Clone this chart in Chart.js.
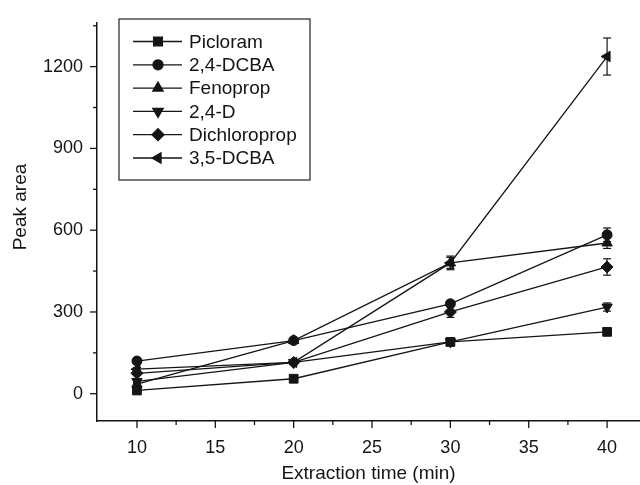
<!DOCTYPE html>
<html>
<head>
<meta charset="utf-8">
<title>Peak area vs extraction time</title>
<script src="https://cdn.jsdelivr.net/npm/chart.js@4.4.1/dist/chart.umd.min.js"></script>
<style>
  html, body { margin: 0; padding: 0; background: #fff; }
  #wrap { width: 640px; height: 485px; }
</style>
</head>
<body>
<div id="wrap"><canvas id="peakChart" width="640" height="485"></canvas></div>
<script>
const times = [10, 20, 30, 40];

const picloram     = [12, 55, 190, 227];
const dcba24       = [120, 195, 330, 583];
const fenoprop     = [35, 195, 480, 553];
const d24          = [45, 115, 190, 318];
const dichloroprop = [75, 115, 300, 465];
const dcba35       = [90, 115, 480, 1237];

// standard deviations for the error bars
const picloramErr     = [6, 6, 8, 8];
const dcba24Err       = [8, 8, 10, 25];
const fenopropErr     = [6, 8, 20, 20];
const d24Err          = [6, 8, 10, 15];
const dichloropropErr = [6, 8, 20, 30];
const dcba35Err       = [6, 8, 25, 68];

const xTicks = [10, 15, 20, 25, 30, 35, 40];
const xMinorTicks = [12.5, 17.5, 22.5, 27.5, 32.5, 37.5];
const yTicks = [0, 300, 600, 900, 1200];
const yMinorTicks = [150, 450, 750, 1050, 1350];

const FONT = '"Liberation Sans", Arial, sans-serif';
const INK = '#151515';

function series(label, values, errs, pointStyle, rotation, radius) {
    return {
        label: label,
        data: times.map((t, i) => ({ x: t, y: values[i] })),
        errors: errs,
        borderColor: INK,
        backgroundColor: INK,
        borderWidth: 1.3,
        pointStyle: pointStyle,
        rotation: rotation,
        pointRadius: radius,
        pointBorderWidth: 1,
        pointBackgroundColor: INK,
        pointBorderColor: INK,
        tension: 0
    };
}

const datasets = [
    series('Picloram', picloram, picloramErr, 'rect', 0, 6.2),
    series('2,4-DCBA', dcba24, dcba24Err, 'circle', 0, 5),
    series('Fenoprop', fenoprop, fenopropErr, 'triangle', 0, 6),
    series('2,4-D', d24, d24Err, 'triangle', 180, 6),
    series('Dichloroprop', dichloroprop, dichloropropErr, 'rectRot', 0, 6),
    series('3,5-DCBA', dcba35, dcba35Err, 'triangle', -90, 6)
];

function stroke(ctx, x1, y1, x2, y2) {
    ctx.beginPath();
    ctx.moveTo(x1, y1);
    ctx.lineTo(x2, y2);
    ctx.stroke();
}

const decorations = {
    id: 'decorations',
    beforeDatasetsDraw(chart) {
        const ctx = chart.ctx;
        const xs = chart.scales.x, ys = chart.scales.y;
        ctx.save();
        ctx.strokeStyle = INK;
        ctx.lineWidth = 1.2;
        chart.data.datasets.forEach(ds => {
            ds.data.forEach((p, i) => {
                const e = ds.errors[i];
                const px = xs.getPixelForValue(p.x);
                const top = ys.getPixelForValue(p.y + e);
                const bot = ys.getPixelForValue(p.y - e);
                stroke(ctx, px, top, px, bot);
                stroke(ctx, px - 4, top, px + 4, top);
                stroke(ctx, px - 4, bot, px + 4, bot);
            });
        });
        ctx.restore();
    },
    afterDraw(chart) {
        const ctx = chart.ctx;
        const xs = chart.scales.x, ys = chart.scales.y;
        const area = chart.chartArea;
        ctx.save();
        ctx.strokeStyle = INK;
        ctx.lineWidth = 1.3;

        // outward tick marks, major and minor
        xTicks.forEach(v => { const px = xs.getPixelForValue(v); stroke(ctx, px, area.bottom, px, area.bottom + 7); });
        xMinorTicks.forEach(v => { const px = xs.getPixelForValue(v); stroke(ctx, px, area.bottom, px, area.bottom + 4); });
        yTicks.forEach(v => { const py = ys.getPixelForValue(v); stroke(ctx, area.left, py, area.left - 7, py); });
        yMinorTicks.forEach(v => { const py = ys.getPixelForValue(v); stroke(ctx, area.left, py, area.left - 4, py); });

        // axis titles
        ctx.fillStyle = INK;
        ctx.font = '19px ' + FONT;
        ctx.textAlign = 'center';
        ctx.textBaseline = 'middle';
        ctx.fillText('Extraction time (min)', (area.left + area.right) / 2, 474);
        ctx.save();
        ctx.translate(21, 207);
        ctx.rotate(-Math.PI / 2);
        ctx.fillText('Peak area', 0, 0);
        ctx.restore();

        // legend box with line + marker samples
        const bx = 119, by = 19, bw = 191, bh = 161;
        ctx.lineWidth = 1.3;
        ctx.strokeStyle = '#333';
        ctx.strokeRect(bx, by, bw, bh);
        ctx.textAlign = 'left';
        ctx.font = '19px ' + FONT;
        chart.data.datasets.forEach((ds, i) => {
            const cy = 41.5 + i * 23.3;
            ctx.strokeStyle = INK;
            ctx.lineWidth = 1.3;
            stroke(ctx, 133, cy, 182, cy);
            ctx.fillStyle = INK;
            Chart.helpers.drawPoint(ctx, {
                pointStyle: ds.pointStyle,
                rotation: ds.rotation,
                radius: ds.pointRadius,
                borderWidth: 1
            }, 158, cy);
            ctx.fillStyle = INK;
            ctx.fillText(ds.label, 189, cy + 1);
        });
        ctx.restore();
    }
};

new Chart(document.getElementById('peakChart'), {
    type: 'line',
    data: { datasets: datasets },
    options: {
        responsive: false,
        animation: false,
        layout: { autoPadding: false, padding: { top: 23, right: 0, left: 0, bottom: 0 } },
        plugins: {
            legend: { display: false },
            tooltip: { enabled: false }
        },
        scales: {
            x: {
                type: 'linear',
                min: 7.45,
                max: 42.1,
                grid: { display: false, drawTicks: false },
                border: { display: true, color: INK, width: 1.5 },
                afterBuildTicks: scale => { scale.ticks = xTicks.map(v => ({ value: v })); },
                afterFit: scale => {
                    scale.height = 64;
                    scale.paddingLeft = 0;
                    scale.paddingRight = 0;
                },
                ticks: {
                    color: INK,
                    padding: 16,
                    maxRotation: 0,
                    font: { family: FONT, size: 18 },
                    callback: v => String(v)
                }
            },
            y: {
                type: 'linear',
                min: -100,
                max: 1360,
                grid: { display: false, drawTicks: false },
                border: { display: true, color: INK, width: 1.5 },
                afterBuildTicks: scale => { scale.ticks = yTicks.map(v => ({ value: v })); },
                afterFit: scale => {
                    scale.width = 97;
                    scale.paddingTop = 0;
                    scale.paddingBottom = 0;
                },
                ticks: {
                    color: INK,
                    padding: 14,
                    font: { family: FONT, size: 18 },
                    callback: v => String(v)
                }
            }
        }
    },
    plugins: [decorations]
});
</script>
</body>
</html>
